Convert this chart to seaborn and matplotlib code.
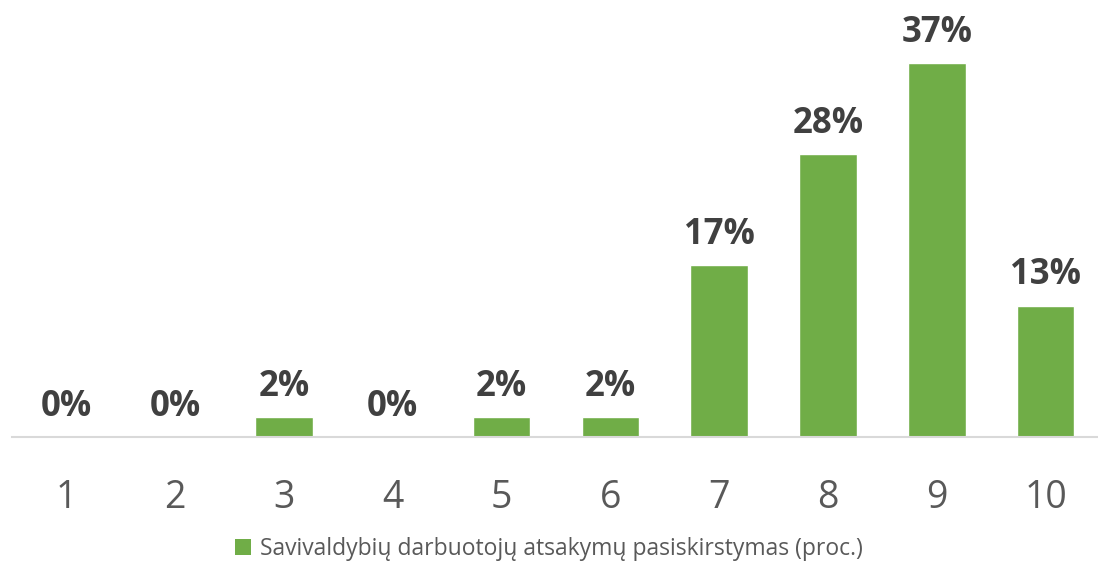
import matplotlib
matplotlib.use("Agg")
import matplotlib.pyplot as plt
import seaborn as sns
import pandas as pd
from matplotlib.patches import Patch

categories = ["1", "2", "3", "4", "5", "6", "7", "8", "9", "10"]
shares = [0, 0, 2, 0, 2, 2, 17, 28, 37, 13]
series_name = "Savivaldybių darbuotojų atsakymų pasiskirstymas (proc.)"

sns.set_theme(style="white")
plt.rcParams["font.family"] = ["Open Sans", "DejaVu Sans"]

df = pd.DataFrame({"score": categories, "share": shares})

fig = plt.figure(figsize=(10.98, 5.62), dpi=100)
ax = fig.add_axes([12 / 1098, 125 / 562, 1088 / 1098, 404 / 562])

green = "#70ad47"
sns.barplot(data=df, x="score", y="share", color=green, width=0.53,
            saturation=1, ax=ax)

ax.set_ylim(0, 40)
ax.set_xlim(-0.5, len(categories) - 0.5)
for side in ["top", "right", "left"]:
    ax.spines[side].set_visible(False)
ax.spines["bottom"].set_color("#d9d9d9")
ax.spines["bottom"].set_linewidth(1.5)
ax.set_yticks([])
ax.set_xlabel("")
ax.set_ylabel("")
ax.tick_params(axis="x", length=0, pad=30, labelsize=27, labelcolor="#595959")

for i, v in enumerate(shares):
    ax.text(i, v + 2.1, f"{v}%", ha="center", va="baseline", fontsize=25,
            fontweight="bold", color="#404040")

fig.legend(handles=[Patch(facecolor=green, edgecolor="none", label=series_name)],
           loc="center", bbox_to_anchor=(0.5, 1 - 549 / 562), frameon=False,
           fontsize=16.5, labelcolor="#595959", handlelength=0.7, handleheight=0.7,
           handletextpad=0.4)

fig.savefig("out.png", dpi=100)
